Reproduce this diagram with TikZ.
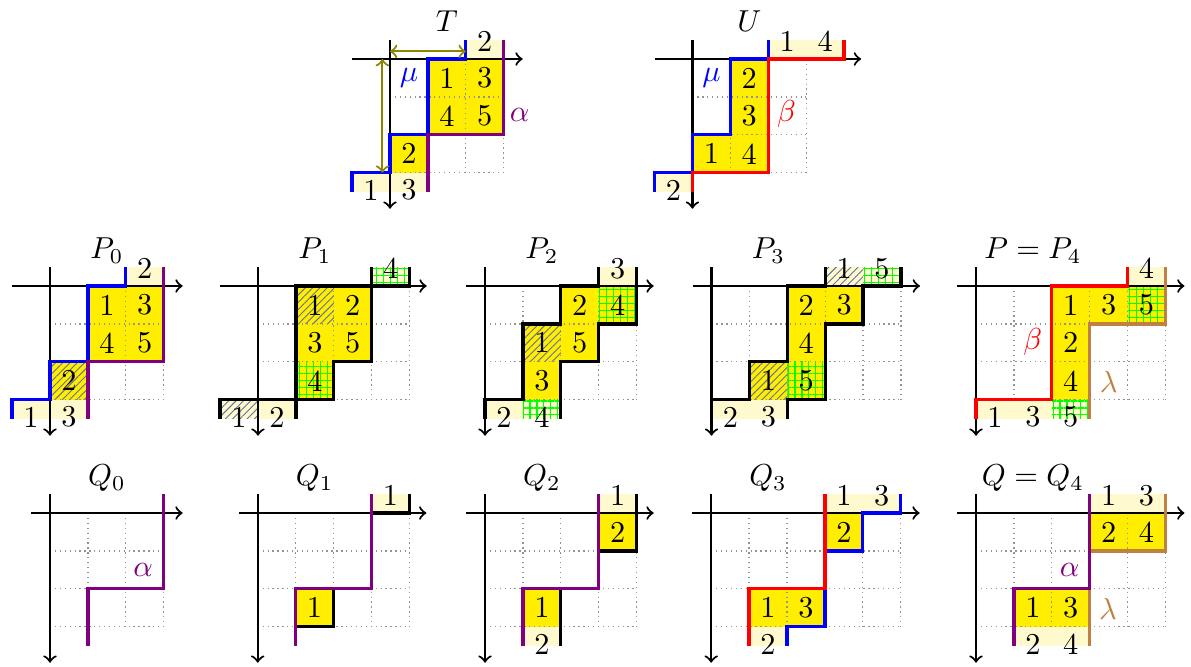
\documentclass[tikz,border=0pt]{standalone}
\usetikzlibrary{patterns.meta}
\definecolor{yel}{RGB}{255,238,0}
\definecolor{lyel}{RGB}{255,250,205}
\definecolor{hatchc}{RGB}{100,110,160}
\newcommand{\cellnum}[4]{\node (#1) at (#2,#3) {#4};}
\newcommand{\dotgrid}[1]{%
 \foreach \gi in {0,...,#1} {\draw[grd] (\gi,0) -- (\gi,3);}
 \foreach \gj in {0,...,3} {\draw[grd] (0,\gj) -- (#1,\gj);}}
\tikzset{
 yc/.style={fill=yel},
 lc/.style={fill=lyel},
 hatchp/.style={pattern={Lines[angle=45,distance=1.7pt,line width=0.3pt]},pattern color=hatchc},
 gridp/.style={pattern={Hatch[angle=0,distance=2.3pt,line width=0.35pt]},pattern color=green},
 grd/.style={gray!85,line width=0.42pt,dash pattern=on 0.42pt off 1.2pt},
 axis/.style={line width=0.7pt,->},
 pth/.style={line width=1.1pt},
 ttl/.style={anchor=base},
}
\begin{document}
\begin{tikzpicture}[x=12.5pt,y=-12.5pt]
\useasboundingbox (0,0) rectangle (31.425,17.573);
% ================= T =================
\begin{scope}[shift={(10.29,1.557)},name prefix=T-]
 \fill[yc] (1,0) rectangle (3,2);
 \fill[yc] (0,2) rectangle (1,3);
 \fill[lc] (2,-0.5) rectangle (3,0);
 \fill[lc] (-1,3) rectangle (1,3.5);
 \dotgrid{3}
 \draw[axis] (-1,0) -- (3.5,0);
 \draw[axis] (0,-0.5) -- (0,3.95);
 \draw[pth,blue] (-1,3.5) -- (-1,3) -- (0,3) -- (0,2) -- (1,2) -- (1,0) -- (2,0) -- (2,-0.5);
 \draw[pth,violet] (1,3.5) -- (1,2) -- (3,2) -- (3,-0.5);
 \coordinate (h0) at (0,-0.2); \coordinate (h1) at (2,-0.2);
 \coordinate (v0) at (-0.2,0); \coordinate (v1) at (-0.2,3);
 \draw[olive,line width=0.7pt,<->] (h0) -- (h1);
 \draw[olive,line width=0.7pt,<->] (v0) -- (v1);
 \cellnum{a}{1.5}{0.5}{1} \cellnum{b}{2.5}{0.5}{3}
 \cellnum{c}{1.5}{1.5}{4} \cellnum{d}{2.5}{1.5}{5}
 \cellnum{e}{0.5}{2.5}{2}
 \cellnum{f}{2.5}{-0.46}{2}
 \cellnum{g}{-0.5}{3.46}{1} \cellnum{h}{0.5}{3.46}{3}
 \node[blue] (mu) at (0.5,0.5) {$\mu$};
 \node[violet] (al) at (3.42,1.47) {$\alpha$};
 \node[ttl] (tt) at (1.5,-0.72) {$T$};
\end{scope}
% ================= U =================
\begin{scope}[shift={(18.27,1.557)},name prefix=U-]
 \fill[yc] (1,0) rectangle (2,2);
 \fill[yc] (0,2) rectangle (2,3);
 \fill[lc] (2,-0.5) rectangle (4,0);
 \fill[lc] (-1,3) rectangle (0,3.5);
 \dotgrid{3}
 \draw[axis] (-1,0) -- (4.45,0);
 \draw[axis] (0,-0.5) -- (0,3.95);
 \draw[pth,blue] (-1,3.5) -- (-1,3) -- (0,3) -- (0,2) -- (1,2) -- (1,0) -- (2,0) -- (2,-0.5);
 \draw[pth,red] (0,3.5) -- (0,3) -- (2,3) -- (2,0) -- (4,0) -- (4,-0.5);
 \cellnum{a}{1.5}{0.5}{2} \cellnum{b}{1.5}{1.5}{3}
 \cellnum{c}{0.5}{2.5}{1} \cellnum{d}{1.5}{2.5}{4}
 \cellnum{e}{2.5}{-0.46}{1} \cellnum{f}{3.5}{-0.46}{4}
 \cellnum{g}{-0.5}{3.46}{2}
 \node[blue] (mu) at (0.5,0.5) {$\mu$};
 \node[red] (be) at (2.48,1.46) {$\beta$};
 \node[ttl] (tt) at (1.5,-0.72) {$U$};
\end{scope}
% ================= P0 =================
\begin{scope}[shift={(1.319,7.546)},name prefix=P0-]
 \fill[yc] (1,0) rectangle (3,2);
 \fill[yc] (0,2) rectangle (1,3);
 \fill[hatchp] (0,2) rectangle (1,3);
 \fill[lc] (2,-0.5) rectangle (3,0);
 \fill[lc] (-1,3) rectangle (1,3.5);
 \dotgrid{3}
 \draw[axis] (-1,0) -- (3.5,0);
 \draw[axis] (0,-0.5) -- (0,3.95);
 \draw[pth,blue] (-1,3.5) -- (-1,3) -- (0,3) -- (0,2) -- (1,2) -- (1,0) -- (2,0) -- (2,-0.5);
 \draw[pth,violet] (1,3.5) -- (1,2) -- (3,2) -- (3,-0.5);
 \cellnum{a}{1.5}{0.5}{1} \cellnum{b}{2.5}{0.5}{3}
 \cellnum{c}{1.5}{1.5}{4} \cellnum{d}{2.5}{1.5}{5}
 \cellnum{e}{0.5}{2.5}{2}
 \cellnum{f}{2.5}{-0.46}{2}
 \cellnum{g}{-0.5}{3.46}{1} \cellnum{h}{0.5}{3.46}{3}
 \node[ttl] (tt) at (1.5,-0.72) {$P_0$};
\end{scope}
% ================= P1 =================
\begin{scope}[shift={(6.807,7.546)},name prefix=P1-]
 \fill[yc] (1,0) rectangle (3,2);
 \fill[yc] (1,2) rectangle (2,3);
 \fill[hatchp] (1,0) rectangle (2,1);
 \fill[gridp] (1,2) rectangle (2,3);
 \fill[lc] (3,-0.5) rectangle (4,0);
 \fill[gridp] (3,-0.5) rectangle (4,0);
 \fill[lc] (-1,3) rectangle (1,3.5);
 \fill[hatchp] (-1,3) rectangle (0,3.5);
 \dotgrid{4}
 \draw[axis] (-1,0) -- (4.45,0);
 \draw[axis] (0,-0.5) -- (0,3.95);
 \draw[pth] (1,3.5) -- (1,0) -- (3,0) -- (3,-0.5);
 \draw[pth] (-1,3.5) -- (-1,3) -- (2,3) -- (2,2) -- (3,2) -- (3,0) -- (4,0) -- (4,-0.5);
 \cellnum{a}{1.5}{0.5}{1} \cellnum{b}{2.5}{0.5}{2}
 \cellnum{c}{1.5}{1.5}{3} \cellnum{d}{2.5}{1.5}{5}
 \cellnum{e}{1.5}{2.5}{4}
 \cellnum{f}{3.5}{-0.46}{4}
 \cellnum{g}{-0.5}{3.46}{1} \cellnum{h}{0.5}{3.46}{2}
 \node[ttl] (tt) at (1.5,-0.72) {$P_1$};
\end{scope}
% ================= P2 =================
\begin{scope}[shift={(12.797,7.546)},name prefix=P2-]
 \fill[yc] (2,0) rectangle (4,1);
 \fill[yc] (1,1) rectangle (3,2);
 \fill[yc] (1,2) rectangle (2,3);
 \fill[gridp] (3,0) rectangle (4,1);
 \fill[hatchp] (1,1) rectangle (2,2);
 \fill[lc] (3,-0.5) rectangle (4,0);
 \fill[lc] (0,3) rectangle (2,3.5);
 \fill[gridp] (1,3) rectangle (2,3.5);
 \dotgrid{4}
 \draw[axis] (-0.5,0) -- (4.45,0);
 \draw[axis] (0,-0.5) -- (0,3.95);
 \draw[pth] (0,3.5) -- (0,3) -- (1,3) -- (1,1) -- (2,1) -- (2,0) -- (3,0) -- (3,-0.5);
 \draw[pth] (2,3.5) -- (2,2) -- (3,2) -- (3,1) -- (4,1) -- (4,-0.5);
 \cellnum{a}{2.5}{0.5}{2} \cellnum{b}{3.5}{0.5}{4}
 \cellnum{c}{1.5}{1.5}{1} \cellnum{d}{2.5}{1.5}{5}
 \cellnum{e}{1.5}{2.5}{3}
 \cellnum{f}{3.5}{-0.46}{3}
 \cellnum{g}{0.5}{3.46}{2} \cellnum{h}{1.5}{3.46}{4}
 \node[ttl] (tt) at (1.5,-0.72) {$P_2$};
\end{scope}
% ================= P3 =================
\begin{scope}[shift={(18.773,7.546)},name prefix=P3-]
 \fill[yc] (2,0) rectangle (4,1);
 \fill[yc] (2,1) rectangle (3,2);
 \fill[yc] (1,2) rectangle (3,3);
 \fill[hatchp] (1,2) rectangle (2,3);
 \fill[gridp] (2,2) rectangle (3,3);
 \fill[lc] (3,-0.5) rectangle (5,0);
 \fill[hatchp] (3,-0.5) rectangle (4,0);
 \fill[gridp] (4,-0.5) rectangle (5,0);
 \fill[lc] (0,3) rectangle (2,3.5);
 \dotgrid{5}
 \draw[axis] (-0.5,0) -- (5.5,0);
 \draw[axis] (0,-0.5) -- (0,3.95);
 \draw[pth] (0,3.5) -- (0,3) -- (1,3) -- (1,2) -- (2,2) -- (2,0) -- (3,0) -- (3,-0.5);
 \draw[pth] (2,3.5) -- (2,3) -- (3,3) -- (3,1) -- (4,1) -- (4,0) -- (5,0) -- (5,-0.5);
 \cellnum{a}{2.5}{0.5}{2} \cellnum{b}{3.5}{0.5}{3}
 \cellnum{c}{2.5}{1.5}{4}
 \cellnum{d}{1.5}{2.5}{1} \cellnum{e}{2.5}{2.5}{5}
 \cellnum{f}{3.5}{-0.46}{1} \cellnum{f2}{4.5}{-0.46}{5}
 \cellnum{g}{0.5}{3.46}{2} \cellnum{h}{1.5}{3.46}{3}
 \node[ttl] (tt) at (1.5,-0.72) {$P_3$};
\end{scope}
% ================= P4 =================
\begin{scope}[shift={(25.752,7.546)},name prefix=P4-]
 \fill[yc] (2,0) rectangle (5,1);
 \fill[yc] (2,1) rectangle (3,3);
 \fill[gridp] (4,0) rectangle (5,1);
 \fill[lc] (4,-0.5) rectangle (5,0);
 \fill[lc] (0,3) rectangle (3,3.5);
 \fill[gridp] (2,3) rectangle (3,3.5);
 \dotgrid{5}
 \draw[axis] (-0.5,0) -- (5.5,0);
 \draw[axis] (0,-0.5) -- (0,3.95);
 \draw[pth,red] (0,3.5) -- (0,3) -- (2,3) -- (2,0) -- (4,0) -- (4,-0.5);
 \draw[pth,brown] (3,3.5) -- (3,1) -- (5,1) -- (5,-0.5);
 \cellnum{a}{2.5}{0.5}{1} \cellnum{b}{3.5}{0.5}{3} \cellnum{c}{4.5}{0.5}{5}
 \cellnum{d}{2.5}{1.5}{2} \cellnum{e}{2.5}{2.5}{4}
 \cellnum{f}{4.5}{-0.46}{4}
 \cellnum{g}{0.5}{3.46}{1} \cellnum{h}{1.5}{3.46}{3} \cellnum{i}{2.5}{3.46}{5}
 \node[red] (be) at (1.5,1.47) {$\beta$};
 \node[brown] (la) at (3.5,2.52) {$\lambda$};
 \node[ttl] (tt) at (1.5,-0.72) {$P=P_4$};
\end{scope}
% ================= Q0 =================
\begin{scope}[shift={(1.319,13.536)},name prefix=Q0-]
 \dotgrid{3}
 \draw[axis] (-0.5,0) -- (3.5,0);
 \draw[axis] (0,-0.5) -- (0,3.95);
 \draw[pth,violet] (1,3.5) -- (1,2) -- (3,2) -- (3,-0.5);
 \node[violet] (al) at (2.46,1.5) {$\alpha$};
 \node[ttl] (tt) at (1.5,-0.72) {$Q_0$};
\end{scope}
% ================= Q1 =================
\begin{scope}[shift={(6.8,13.536)},name prefix=Q1-]
 \fill[yc] (1,2) rectangle (2,3);
 \fill[lc] (3,-0.5) rectangle (4,0);
 \dotgrid{4}
 \draw[axis] (-0.5,0) -- (4.45,0);
 \draw[axis] (0,-0.5) -- (0,3.95);
 \draw[pth] (1,3) -- (2,3) -- (2,2);
 \draw[pth] (3,0) -- (4,0) -- (4,-0.5);
 \draw[pth,violet] (1,3.5) -- (1,2) -- (3,2) -- (3,-0.5);
 \cellnum{a}{1.5}{2.5}{1}
 \cellnum{f}{3.5}{-0.46}{1}
 \node[ttl] (tt) at (1.5,-0.72) {$Q_1$};
\end{scope}
% ================= Q2 =================
\begin{scope}[shift={(12.797,13.536)},name prefix=Q2-]
 \fill[yc] (1,2) rectangle (2,3);
 \fill[yc] (3,0) rectangle (4,1);
 \fill[lc] (1,3) rectangle (2,3.5);
 \fill[lc] (3,-0.5) rectangle (4,0);
 \dotgrid{4}
 \draw[axis] (-0.5,0) -- (4.45,0);
 \draw[axis] (0,-0.5) -- (0,3.95);
 \draw[pth] (2,3.5) -- (2,2);
 \draw[pth] (3,1) -- (4,1) -- (4,-0.5);
 \draw[pth,violet] (1,3.5) -- (1,2) -- (3,2) -- (3,-0.5);
 \cellnum{a}{1.5}{2.5}{1} \cellnum{b}{3.5}{0.5}{2}
 \cellnum{f}{3.5}{-0.46}{1}
 \cellnum{g}{1.5}{3.46}{2}
 \node[ttl] (tt) at (1.5,-0.72) {$Q_2$};
\end{scope}
% ================= Q3 =================
\begin{scope}[shift={(18.765,13.536)},name prefix=Q3-]
 \fill[yc] (1,2) rectangle (3,3);
 \fill[yc] (3,0) rectangle (4,1);
 \fill[lc] (1,3) rectangle (2,3.5);
 \fill[lc] (3,-0.5) rectangle (5,0);
 \dotgrid{5}
 \draw[axis] (-0.5,0) -- (5.5,0);
 \draw[axis] (0,-0.5) -- (0,3.95);
 \draw[pth,blue] (2,3.5) -- (2,3) -- (3,3) -- (3,2);
 \draw[pth,blue] (3,1) -- (4,1) -- (4,0) -- (5,0) -- (5,-0.5);
 \draw[pth,red] (1,3.5) -- (1,2) -- (3,2) -- (3,-0.5);
 \cellnum{a}{1.5}{2.5}{1} \cellnum{b}{2.5}{2.5}{3} \cellnum{c}{3.5}{0.5}{2}
 \cellnum{f}{3.5}{-0.46}{1} \cellnum{f2}{4.5}{-0.46}{3}
 \cellnum{g}{1.5}{3.46}{2}
 \node[ttl] (tt) at (1.5,-0.72) {$Q_3$};
\end{scope}
% ================= Q4 =================
\begin{scope}[shift={(25.752,13.536)},name prefix=Q4-]
 \fill[yc] (1,2) rectangle (3,3);
 \fill[yc] (3,0) rectangle (5,1);
 \fill[lc] (1,3) rectangle (3,3.5);
 \fill[lc] (3,-0.5) rectangle (5,0);
 \dotgrid{5}
 \draw[axis] (-0.5,0) -- (5.5,0);
 \draw[axis] (0,-0.5) -- (0,3.95);
 \draw[pth,brown] (3,3.5) -- (3,2);
 \draw[pth,brown] (3,1) -- (5,1) -- (5,-0.5);
 \draw[pth,violet] (1,3.5) -- (1,2) -- (3,2) -- (3,-0.5);
 \cellnum{a}{1.5}{2.5}{1} \cellnum{b}{2.5}{2.5}{3}
 \cellnum{c}{3.5}{0.5}{2} \cellnum{d}{4.5}{0.5}{4}
 \cellnum{f}{3.5}{-0.46}{1} \cellnum{f2}{4.5}{-0.46}{3}
 \cellnum{g}{1.5}{3.46}{2} \cellnum{h}{2.5}{3.46}{4}
 \node[violet] (al) at (2.47,1.5) {$\alpha$};
 \node[brown] (la) at (3.48,2.54) {$\lambda$};
 \node[ttl] (tt) at (1.5,-0.72) {$Q=Q_4$};
\end{scope}
\end{tikzpicture}
\end{document}
